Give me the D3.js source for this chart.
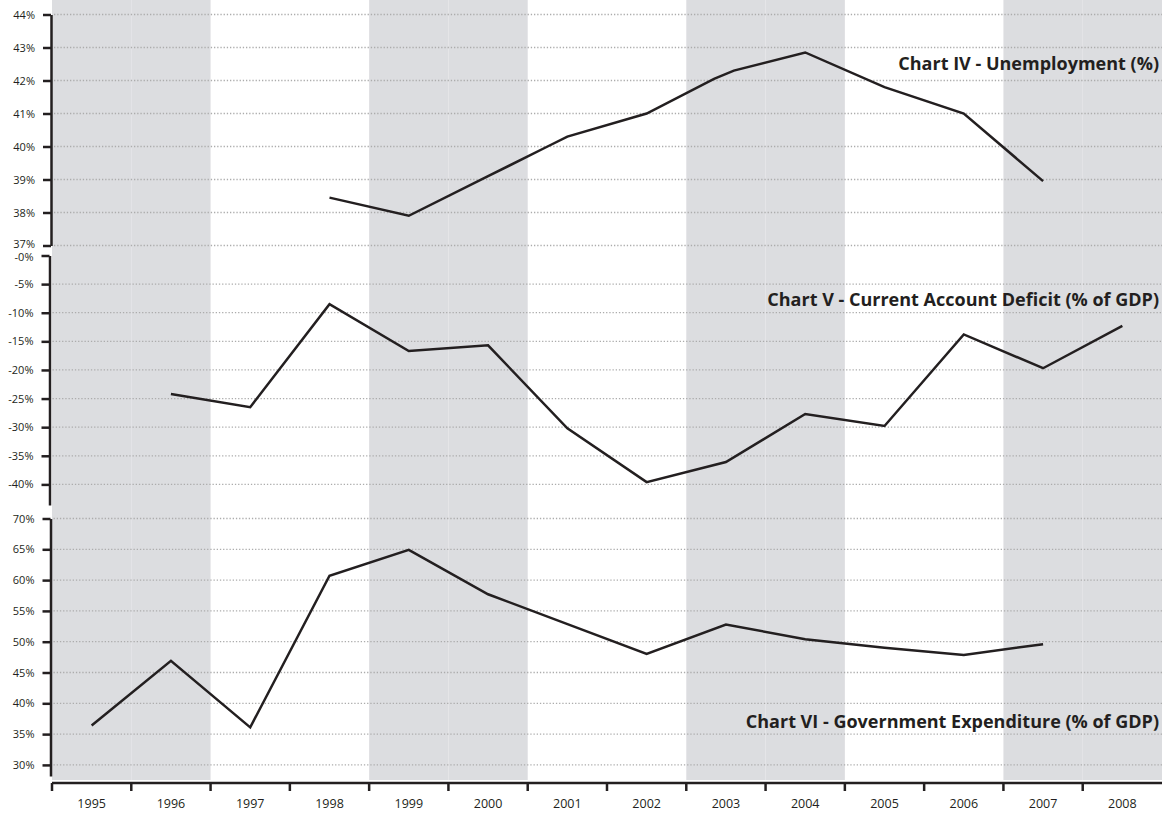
<!DOCTYPE html>
<html>
<head>
<meta charset="utf-8">
<script src="https://cdn.jsdelivr.net/npm/d3@7"></script>
<style>
  body { margin: 0; background: #fff; }
  text { font-family: "Open Sans", sans-serif; fill: #231f20; }
</style>
</head>
<body>
<svg id="chart" width="1168" height="813"></svg>
<script>
// years on the x axis
const years = [1995, 1996, 1997, 1998, 1999, 2000, 2001, 2002, 2003, 2004, 2005, 2006, 2007, 2008];

// Chart IV - unemployment (%), some mid-year readings included
const unemployment = [
  [1998, 38.45], [1999, 37.9], [2000, 39.1], [2000.75, 40.0], [2001, 40.3],
  [2002, 41.0], [2002.85, 42.05], [2003.1, 42.3], [2004, 42.85], [2005, 41.8],
  [2006, 41.0], [2007, 38.95]
];

// Chart V - current account deficit (% of GDP)
const currentAccount = [
  [1996, -24.2], [1997, -26.5], [1998, -8.5], [1999, -16.7], [2000, -15.7],
  [2001, -30.2], [2002, -39.6], [2003, -36.1], [2004, -27.7], [2005, -29.8],
  [2006, -13.8], [2007, -19.7], [2008, -12.3]
];

// Chart VI - government expenditure (% of GDP)
const govExpenditure = [
  [1995, 36.4], [1996, 46.9], [1997, 36.1], [1998, 60.7], [1999, 64.9],
  [2000, 57.7], [2002, 48.0], [2003, 52.8], [2004, 50.4], [2005, 49.0],
  [2006, 47.85], [2007, 49.6]
];

const unempTicks = [37, 38, 39, 40, 41, 42, 43, 44];
const caTicks = [0, -5, -10, -15, -20, -25, -30, -35, -40];
const govTicks = [30, 35, 40, 45, 50, 55, 60, 65, 70];

const titles = [
  'Chart IV - Unemployment (%)',
  'Chart V - Current Account Deficit (% of GDP)',
  'Chart VI - Government Expenditure (% of GDP)'
];

const ink = '#231f20';
const svg = d3.select('#chart');

const x = d3.scaleLinear()
  .domain([1994.5, 2008.5])
  .range([52, 1162]);

const plotBottom = 780;

// alternating grey bands, two years each
svg.append('g').selectAll('rect')
  .data(years.filter((y, i) => i % 4 < 2))
  .enter().append('rect')
  .attr('x', d => x(d - 0.5))
  .attr('width', d => x(d + 0.5) - x(d - 0.5))
  .attr('y', 0)
  .attr('height', plotBottom)
  .attr('fill', '#dcdde0');

const panels = [
  {
    data: unemployment, ticks: unempTicks, title: titles[0], titleY: 70, axisX: 51,
    y: d3.scaleLinear().domain([37, 44]).range([245.5, 14.5]),
    fmt: d => d + '%', grid: unempTicks, nudge: d => (d === 37 ? -1.5 : 0)
  },
  {
    data: currentAccount, ticks: caTicks, title: titles[1], titleY: 306, axisX: 49.5,
    y: d3.scaleLinear().domain([-43.6, 0]).range([505, 255.5]),
    fmt: d => (d === 0 ? '-0%' : d + '%'), grid: caTicks.filter(d => d !== 0),
    nudge: d => (d === 0 ? 1.5 : 0)
  },
  {
    data: govExpenditure, ticks: govTicks, title: titles[2], titleY: 728, axisX: 50.5,
    y: d3.scaleLinear().domain([28.2, 70]).range([776, 518.5]),
    fmt: d => d + '%', grid: govTicks, nudge: () => 0
  }
];

panels.forEach(p => {
  // dotted grid
  svg.append('g').selectAll('line')
    .data(p.grid)
    .enter().append('line')
    .attr('x1', p.axisX + 3)
    .attr('x2', 1162)
    .attr('y1', d => p.y(d))
    .attr('y2', d => p.y(d))
    .attr('stroke', '#acacac')
    .attr('stroke-width', 1.3)
    .attr('stroke-dasharray', '1.3,1.9');

  const axis = svg.append('g')
    .attr('transform', `translate(${p.axisX},0)`)
    .call(d3.axisLeft(p.y).tickValues(p.ticks).tickFormat(p.fmt).tickSize(8).tickSizeOuter(0).tickPadding(8));
  axis.select('.domain').attr('stroke', ink).attr('stroke-width', 2.5);
  axis.selectAll('.tick line').attr('stroke', ink).attr('stroke-width', 2.5);
  axis.selectAll('.tick text')
    .attr('y', d => p.nudge(d))
    .style('font-size', '11px')
    .style('font-family', '"Open Sans", sans-serif')
    .attr('fill', ink);

  const line = d3.line()
    .x(d => x(d[0]))
    .y(d => p.y(d[1]));

  svg.append('path')
    .datum(p.data)
    .attr('d', line)
    .attr('fill', 'none')
    .attr('stroke', ink)
    .attr('stroke-width', 2.5)
    .attr('stroke-linejoin', 'miter');

  svg.append('text')
    .attr('x', 1159)
    .attr('y', p.titleY)
    .attr('text-anchor', 'end')
    .style('font-size', '18px')
    .style('font-weight', 700)
    .text(p.title);
});

// bottom year axis, ticks on the band edges
const xAxis = svg.append('g')
  .attr('transform', `translate(0,${plotBottom + 3})`);

xAxis.append('line')
  .attr('x1', x(1994.5))
  .attr('x2', x(2008.5))
  .attr('stroke', ink)
  .attr('stroke-width', 2.5);

xAxis.selectAll('.edge')
  .data(years.map(y => y - 0.5))
  .enter().append('line')
  .attr('class', 'edge')
  .attr('x1', d => x(d))
  .attr('x2', d => x(d))
  .attr('y1', 0)
  .attr('y2', 8)
  .attr('stroke', ink)
  .attr('stroke-width', 2.5);

xAxis.selectAll('text')
  .data(years)
  .enter().append('text')
  .attr('x', d => x(d))
  .attr('y', 25)
  .attr('text-anchor', 'middle')
  .style('font-size', '12.5px')
  .text(d => d);
</script>
</body>
</html>
